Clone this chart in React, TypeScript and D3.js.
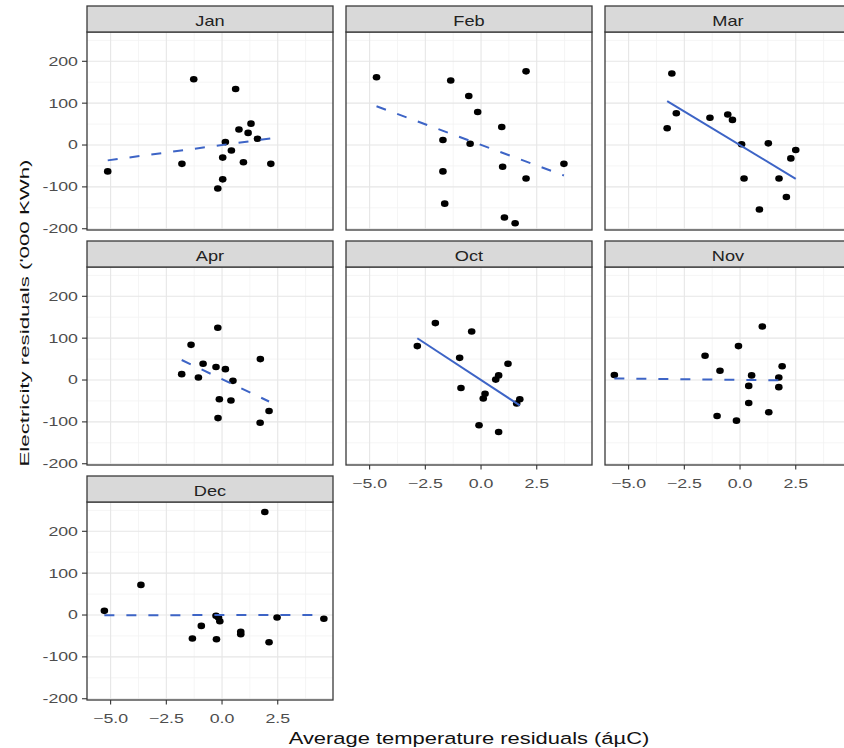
import React from "react";
import * as d3 from "d3";

const months = ["Jan", "Feb", "Mar", "Apr", "Oct", "Nov", "Dec"];

const janX = [-1.27, 0.61, 0.76, 1.3, 1.17, 1.59, 0.15, 0.42, 0.03, 0.96, 2.19, -1.8, -5.13, 0.03, -0.19];
const janY = [157, 134, 37, 51, 29, 15, 7, -13, -30, -41, -45, -45, -63, -82, -104];

const febX = [-4.69, 2.02, -1.36, -0.55, -0.15, 0.93, -1.71, -0.49, 0.97, 3.72, 2.02, -1.71, -1.63, 1.05, 1.53];
const febY = [162, 176, 154, 117, 79, 43, 12, 3, -52, -45, -80, -63, -140, -173, -187];

const marX = [-3.06, -2.86, -3.27, -1.35, -0.55, -0.34, 0.07, 1.27, 2.5, 2.28, 1.75, 0.18, 2.08, 0.87];
const marY = [171, 76, 40, 65, 73, 60, 2, 4, -12, -32, -80, -80, -124, -154];

const aprX = [-0.19, -1.39, 1.72, -0.85, -0.27, 0.15, -1.81, -1.06, 0.49, -0.12, 0.4, 2.11, -0.18, 1.71];
const aprY = [125, 84, 50, 39, 31, 26, 14, 6, -2, -46, -49, -74, -91, -102];

const octX = [-2.05, -0.42, -2.86, -0.96, 1.21, 0.79, 0.66, -0.9, 0.18, 0.1, 1.74, 1.6, -0.09, 0.79];
const octY = [136, 116, 81, 53, 39, 11, 1, -19, -33, -44, -46, -56, -108, -124];

const novX = [-5.64, 1.0, -0.07, -1.57, 1.89, -0.9, 0.52, 1.74, 0.39, 1.74, 0.39, 1.29, -1.03, -0.16];
const novY = [12, 128, 81, 58, 33, 22, 11, 6, -14, -17, -55, -77, -86, -97];

const decX = [1.92, -3.64, -5.28, -0.27, -0.16, -0.1, 2.47, 4.57, -0.93, -1.33, -0.25, 0.84, 0.84, 2.11];
const decY = [246, 72, 10, -2, -6, -15, -6, -9, -26, -56, -58, -40, -46, -65];

const seriesX = [janX, febX, marX, aprX, octX, novX, decX];
const seriesY = [janY, febY, marY, aprY, octY, novY, decY];
const lineTypes = ["dashed", "dashed", "solid", "dashed", "solid", "dashed", "dashed"];

const yTicks = [-200, -100, 0, 100, 200];
const yMinor = [-150, -50, 50, 150, 250];
const xTicks = [-5, -2.5, 0, 2.5];
const xMinor = [-3.75, -1.25, 1.25, 3.75];
const xDomain = [-6.06, 4.98];
const yDomain = [-203, 270];

const xTitle = "Average temperature residuals (áµC)";
const yTitle = "Electricity residuals ('000 KWh)";

const W = 844;
const H = 748;
const PANEL_W = 246;
const PLOT_H = 198;
const STRIP_H = 26;
const colLeft = [87, 346, 605];
const rowTop = [6, 241, 476];
const FONT = "'Liberation Sans', Arial, Helvetica, sans-serif";
const LINE_COLOR = "#3d64c6";

function fit(xs: number[], ys: number[]) {
  const mx = d3.mean(xs) as number;
  const my = d3.mean(ys) as number;
  let sxy = 0;
  let sxx = 0;
  xs.forEach((x, i) => {
    sxy += (x - mx) * (ys[i] - my);
    sxx += (x - mx) * (x - mx);
  });
  const slope = sxy / sxx;
  const icpt = my - slope * mx;
  const [x0, x1] = d3.extent(xs) as [number, number];
  return [
    [x0, icpt + slope * x0],
    [x1, icpt + slope * x1],
  ];
}

function SText(props: {
  x: number;
  y: number;
  size: number;
  sx: number;
  anchor?: string;
  rot?: number;
  fill?: string;
  dy?: string;
  children: React.ReactNode;
}) {
  const { x, y, size, sx, anchor = "middle", rot = 0, fill = "#000", dy, children } = props;
  return (
    <text
      transform={`translate(${x},${y}) rotate(${rot}) scale(${sx},1)`}
      fontSize={size}
      fontFamily={FONT}
      textAnchor={anchor}
      fill={fill}
      dy={dy}
    >
      {children}
    </text>
  );
}

function Panel({ idx }: { idx: number }) {
  const col = idx % 3;
  const row = Math.floor(idx / 3);
  const left = colLeft[col];
  const stripTop = rowTop[row];
  const top = stripTop + STRIP_H;
  const x = d3.scaleLinear().domain(xDomain).range([left, left + PANEL_W]);
  const y = d3.scaleLinear().domain(yDomain).range([top + PLOT_H, top]);
  const xs = seriesX[idx];
  const ys = seriesY[idx];
  const pts = xs.map((v, i) => [v, ys[i]]);
  const ln = fit(xs, ys);
  const lineGen = d3
    .line<number[]>()
    .x((d) => x(d[0]))
    .y((d) => y(d[1]));
  const showY = col === 0;
  const showX = idx === 6 || idx === 4 || idx === 5;
  const bottom = top + PLOT_H;
  return (
    <g>
      <rect x={left} y={top} width={PANEL_W} height={PLOT_H} fill="#fff" />
      {yMinor.map((t) => (
        <line key={"ym" + t} x1={left} x2={left + PANEL_W} y1={y(t)} y2={y(t)} stroke="#f2f2f2" strokeWidth={0.8} />
      ))}
      {xMinor.map((t) => (
        <line key={"xm" + t} x1={x(t)} x2={x(t)} y1={top} y2={bottom} stroke="#f2f2f2" strokeWidth={0.8} />
      ))}
      {yTicks.map((t) => (
        <line key={"yM" + t} x1={left} x2={left + PANEL_W} y1={y(t)} y2={y(t)} stroke="#e6e6e6" strokeWidth={1.1} />
      ))}
      {xTicks.map((t) => (
        <line key={"xM" + t} x1={x(t)} x2={x(t)} y1={top} y2={bottom} stroke="#e6e6e6" strokeWidth={1.1} />
      ))}
      {pts.map((p, i) => (
        <ellipse key={"p" + i} cx={x(p[0])} cy={y(p[1])} rx={3.8} ry={3.3} fill="#000" />
      ))}
      <path
        d={lineGen(ln) || ""}
        fill="none"
        stroke={LINE_COLOR}
        strokeWidth={2}
        strokeDasharray={lineTypes[idx] === "dashed" ? "10 12" : undefined}
      />
      <rect x={left} y={top} width={PANEL_W} height={PLOT_H} fill="none" stroke="#3a3a3a" strokeWidth={1.3} />
      <rect x={left} y={stripTop} width={PANEL_W} height={STRIP_H} fill="#d9d9d9" stroke="#3a3a3a" strokeWidth={1.3} />
      <SText x={left + PANEL_W / 2} y={stripTop + 20} size={14} sx={1.3} fill="#222">
        {months[idx]}
      </SText>
      {showY &&
        yTicks.map((t) => (
          <g key={"yt" + t}>
            <line x1={left - 5} x2={left} y1={y(t)} y2={y(t)} stroke="#333" strokeWidth={1.1} />
            <SText x={left - 9} y={y(t)} size={12.5} sx={1.42} anchor="end" fill="#4d4d4d" dy="0.35em">
              {t}
            </SText>
          </g>
        ))}
      {showX &&
        xTicks.map((t) => (
          <g key={"xt" + t}>
            <line x1={x(t)} x2={x(t)} y1={bottom} y2={bottom + 4.5} stroke="#333" strokeWidth={1.1} />
            <SText x={x(t)} y={bottom + 23} size={12.5} sx={1.42} fill="#4d4d4d">
              {d3.format(".1f")(t)}
            </SText>
          </g>
        ))}
    </g>
  );
}

export default function App() {
  return (
    <svg
      width={W}
      height={H}
      style={{ position: "absolute", left: 0, top: 0, display: "block", background: "#fff" }}
    >
      <rect x={0} y={0} width={W} height={H} fill="#fff" />
      {months.map((m, i) => (
        <Panel key={m} idx={i} />
      ))}
      <SText x={469} y={744} size={17} sx={1.29} fill="#111">
        {xTitle}
      </SText>
      <SText x={29} y={313} size={12.5} sx={1.78} rot={-90} fill="#111">
        {yTitle}
      </SText>
    </svg>
  );
}
